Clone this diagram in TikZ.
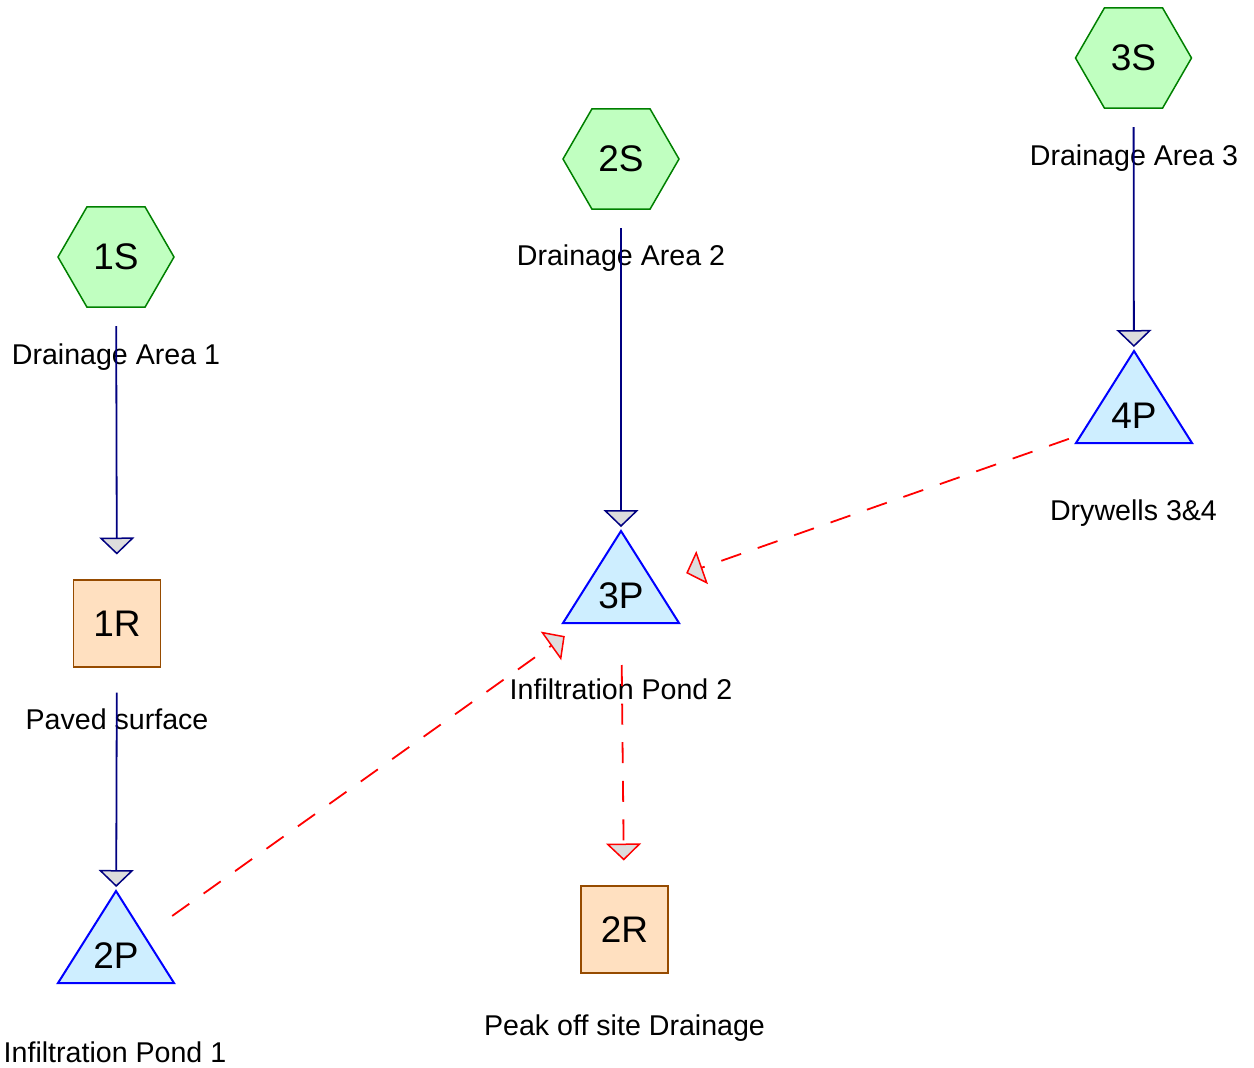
\documentclass[tikz,border=0pt]{standalone}
\usepackage{fontspec}
\setmainfont{Liberation Sans}
\usetikzlibrary{shapes.geometric,arrows.meta,calc}
\definecolor{hexfill}{RGB}{192,255,192}
\definecolor{hexdraw}{RGB}{0,128,0}
\definecolor{pondfill}{RGB}{206,238,255}
\definecolor{ponddraw}{RGB}{0,0,255}
\definecolor{reachfill}{RGB}{255,224,192}
\definecolor{reachdraw}{RGB}{150,75,0}
\definecolor{navyline}{RGB}{0,0,128}
\definecolor{tipfill}{RGB}{221,221,221}
\begin{document}
\begin{tikzpicture}[x=0.5pt,y=-0.5pt,
  bigtxt/.style={font=\fontsize{18.5}{22}\selectfont},
  subcat/.style={regular polygon, regular polygon sides=6, minimum size=58pt,
    inner sep=0pt, fill=hexfill, draw=hexdraw, line width=0.75pt, bigtxt},
  reach/.style={rectangle, minimum width=43.5pt, minimum height=43.5pt,
    inner sep=0pt, fill=reachfill, draw=reachdraw, line width=0.9pt, bigtxt},
  pondtxt/.style={inner sep=0pt, bigtxt},
  pondshape/.style={fill=pondfill, draw=ponddraw, line width=1pt, line join=miter},
  lbl/.style={anchor=base, inner sep=0pt, font=\fontsize{14.3}{17}\selectfont},
  flow/.style={draw=navyline, line width=0.9pt, shorten <=34.5pt, shorten >=34.5pt,
    -{Triangle[length=8.5pt,width=17.5pt,fill=tipfill,line width=0.75pt]}},
  dflow/.style={draw=red, line width=0.9pt, dash pattern=on 10.5pt off 8.8pt,
    shorten <=34.5pt, shorten >=34.5pt,
    -{Triangle[length=8.5pt,width=17.5pt,fill=tipfill,line width=0.75pt]}}
]
\useasboundingbox (0,0) rectangle (1254,1067);
\fill[white] (0,0) rectangle (1254,1067);

% subcatchments
\node[subcat] (1S) at (116,257) {1S};
\node[subcat] (2S) at (621,159) {2S};
\node[subcat] (3S) at (1133.5,58) {3S};

% reaches
\node[reach] (1R) at (117,623.5) {1R};
\node[reach] (2R) at (624.5,929.5) {2R};

% ponds
\coordinate (c2P) at (116,956);
\coordinate (c3P) at (621,596);
\coordinate (c4P) at (1134,416);
\foreach \c in {c2P,c3P,c4P}{
  \path[pondshape] ($(\c)+(0,-65)$) -- ($(\c)+(58,27)$) -- ($(\c)+(-58,27)$) -- cycle;
}
\node[pondtxt] (2P) at (c2P) {2P};
\node[pondtxt] (3P) at (c3P) {3P};
\node[pondtxt] (4P) at (c4P) {4P};

% labels
\node[lbl] (1S-lbl) at (116,364) {Drainage Area 1};
\node[lbl] (2S-lbl) at (621,265) {Drainage Area 2};
\node[lbl] (3S-lbl) at (1134,165) {Drainage Area 3};
\node[lbl] (1R-lbl) at (117,729) {Paved surface};
\node[lbl] (2R-lbl) at (624.5,1035) {Peak off site Drainage};
\node[lbl] (2P-lbl) at (115,1062) {Infiltration Pond 1};
\node[lbl] (3P-lbl) at (621,699) {Infiltration Pond 2};
\node[lbl] (4P-lbl) at (1133.5,520) {Drywells 3\&4};

% connectors
\draw[flow] (1S.center) -- (1R.center);
\draw[flow] (1R.center) -- (2P.center);
\draw[flow] (2S.center) -- (3P.center);
\draw[flow] (3S.center) -- (4P.center);
\draw[dflow] (2P.center) -- (3P.center);
\draw[dflow] (4P.center) -- (3P.center);
\draw[dflow] (3P.center) -- (2R.center);
\end{tikzpicture}
\end{document}
